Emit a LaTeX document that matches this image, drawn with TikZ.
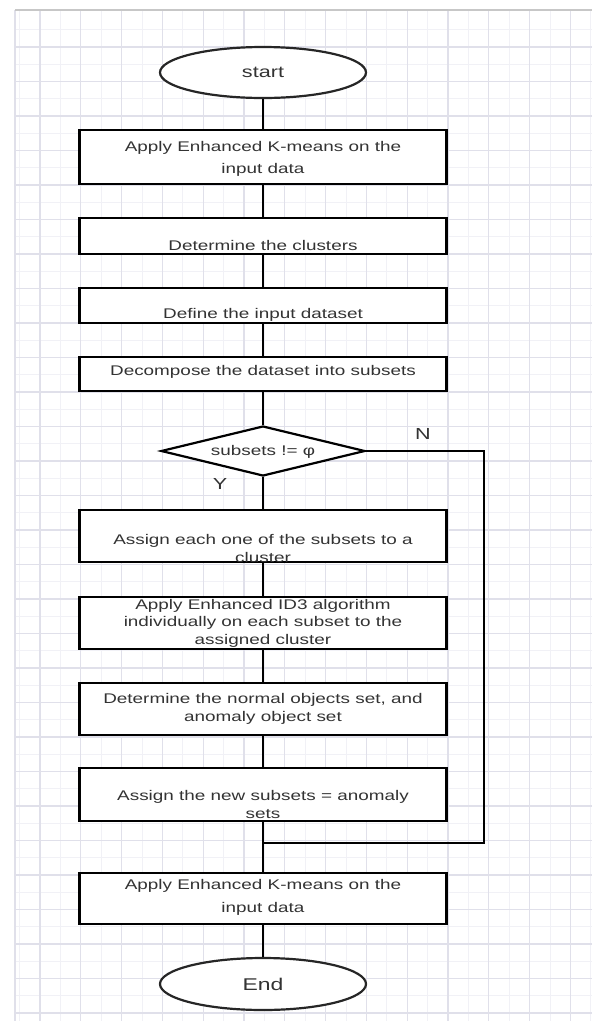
\documentclass[tikz,border=0pt]{standalone}
\usepackage{fontspec}
\usetikzlibrary{shapes.geometric}
\newfontfamily\dfont[FakeStretch=1.35]{Liberation Sans}
\definecolor{gridmaj}{HTML}{E0E0EA}
\definecolor{gridmin}{HTML}{F1F1F6}
\definecolor{txtc}{HTML}{333333}
\begin{document}
\begin{tikzpicture}[x=1pt,y=-1pt,
  box/.style={draw=black,line width=2.4pt,rectangle,minimum width=367pt,inner sep=0pt,fill=white},
  term/.style={draw=black!85,line width=2.2pt,ellipse,minimum width=206pt,minimum height=51pt,inner sep=0pt,fill=white},
  dec/.style={draw=black,line width=2.2pt,diamond,minimum width=204pt,minimum height=50pt,inner sep=0pt,fill=white},
  txt/.style={font=\dfont\fontsize{14}{18}\selectfont,text=txtc,align=center,inner sep=0pt},
  lbl/.style={font=\dfont\fontsize{16}{18}\selectfont,text=txtc,inner sep=0pt},
  conn/.style={line width=2.4pt,black},
  gmin/.style={gridmin,line width=0.8pt},
  gmaj/.style={gridmaj,line width=1.2pt}]
\useasboundingbox (0,0) rectangle (592,1021);
\fill[white] (0,0) rectangle (592,1021);
% grid
\foreach \k in {0,...,28} {\draw[gmin] (19.6+20.4*\k,10) -- (19.6+20.4*\k,1021);}
\foreach \k in {0,...,57} {\draw[gmin] (15,29.75+17.25*\k) -- (592,29.75+17.25*\k);}
\foreach \k in {0,...,13} {\draw[gmaj] (40+40.8*\k,10) -- (40+40.8*\k,1021);}
\foreach \k in {0,...,28} {\draw[gmaj] (15,47+34.5*\k) -- (592,47+34.5*\k);}
\draw[gmaj] (15,10) -- (15,1021);
\draw[black!22,line width=2pt] (15,10) -- (592,10);

% nodes
\node[term] (start) at (263,72.5) {};
\node[box,minimum height=54pt] (b1) at (263,157) {};
\node[box,minimum height=36pt] (b2) at (263,236) {};
\node[box,minimum height=35pt] (b3) at (263,305.5) {};
\node[box,minimum height=34pt] (b4) at (263,374) {};
\node[dec] (dec) at (263,451) {};
\node[box,minimum height=52pt] (b5) at (263,536) {};
\node[box,minimum height=52pt] (b6) at (263,623) {};
\node[box,minimum height=52pt] (b7) at (263,709) {};
\node[box,minimum height=53pt] (b8) at (263,794.5) {};
\node[box,minimum height=51pt] (b9) at (263,898.5) {};
\node[term,minimum height=52pt] (end) at (263,984) {};

\coordinate (loopA) at (484,451);
\coordinate (loopB) at (484,843);
\coordinate (merge) at (263,843);

% connectors
\draw[conn] (start) -- (b1);
\draw[conn] (b1) -- (b2);
\draw[conn] (b2) -- (b3);
\draw[conn] (b3) -- (b4);
\draw[conn] (b4) -- (dec);
\draw[conn] (dec) -- (b5);
\draw[conn] (b5) -- (b6);
\draw[conn] (b6) -- (b7);
\draw[conn] (b7) -- (b8);
\draw[conn] (b8) -- (b9);
\draw[conn] (b9) -- (end);
\draw[conn] (dec.east) -- (loopA) -- (loopB) -- (merge);

% texts
\node[txt,font=\dfont\fontsize{16}{18}\selectfont] (t0) at (263,72) {start};
\node[txt,font=\dfont\fontsize{14}{22}\selectfont] (t1) at (263,159) {Apply Enhanced K-means on the\\input data};
\node[txt] (t2) at (263,245) {Determine the clusters};
\node[txt] (t3) at (263,315) {Define the input dataset};
\node[txt] (t4) at (263,372) {Decompose the dataset into subsets};
\node[txt] (td) at (263,452) {subsets != φ};
\node[txt] (t5) at (263,548) {Assign each one of the subsets to a\\cluster};
\node[txt,font=\dfont\fontsize{14}{17.5}\selectfont] (t6) at (263,623) {Apply Enhanced ID3 algorithm\\individually on each subset to the\\assigned cluster};
\node[txt] (t7) at (263,709) {Determine the normal objects set, and\\anomaly object set};
\node[txt] (t8) at (263,804) {Assign the new subsets = anomaly\\sets};
\node[txt,font=\dfont\fontsize{14}{23}\selectfont] (t9) at (263,897) {Apply Enhanced K-means on the\\input data};
\node[txt,font=\dfont\fontsize{17}{18}\selectfont] (te) at (263,984) {End};
\node[lbl] (lN) at (423,434) {N};
\node[lbl] (lY) at (220,484) {Y};
\end{tikzpicture}
\end{document}
